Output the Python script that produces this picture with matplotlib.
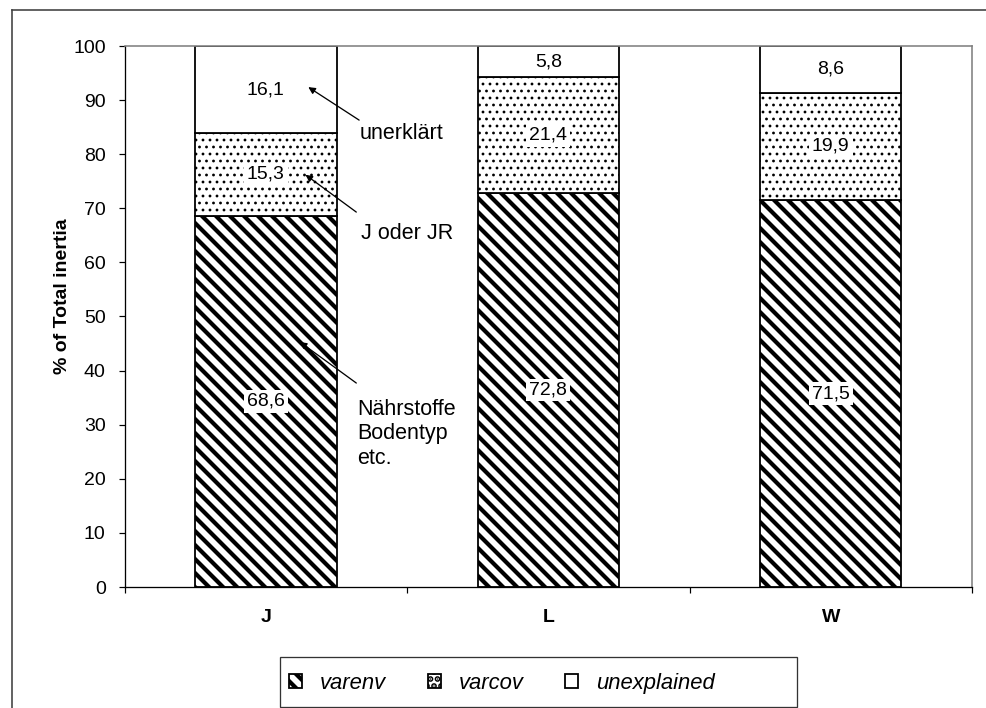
import numpy as np
import matplotlib
matplotlib.use('Agg')
import matplotlib.pyplot as plt
from matplotlib.lines import Line2D
from matplotlib.patches import Rectangle

# ──── Data ─────────────────────────────────────────────────────
sites = ['J', 'L', 'W']
varenv = [68.6, 72.8, 71.5]
varcov = [15.3, 21.4, 19.9]
unexplained = [16.1, 5.8, 8.6]
series_names = ['varenv', 'varcov', 'unexplained']
y_ticks = list(range(0, 101, 10))

# ──── Canvas (hatch spacing scales with dpi, so work at 84 dpi) ──
DPI = 84
W, H = 986, 708
PX = 72.0 / DPI            # points per pixel

plt.rcParams['font.family'] = ['Liberation Sans', 'DejaVu Sans']
plt.rcParams['hatch.linewidth'] = 4.2 * PX

FS_TICK = 19.5 * PX
FS_NOTE = 21.5 * PX
FS_LEG = 22.0 * PX

fig = plt.figure(figsize=((W + 0.01) / DPI, (H + 0.01) / DPI), dpi=DPI)
ax = fig.add_axes([124.7 / W, 1 - 587 / H, (972 - 124.7) / W, (587 - 46) / H])

x = np.arange(len(sites))
bottom2 = np.array(varenv)
bottom3 = bottom2 + np.array(varcov)

edge_lw = 1.8 * PX
b1 = ax.bar(x, varenv, 0.5, color='white', edgecolor='black', hatch='\\\\',
            lw=edge_lw, label=series_names[0])
b2 = ax.bar(x, varcov, 0.5, bottom=bottom2, color='white', edgecolor='black',
            hatch='..', lw=edge_lw, label=series_names[1])
b3 = ax.bar(x, unexplained, 0.5, bottom=bottom3, color='white',
            edgecolor='black', lw=edge_lw, label=series_names[2])
for p in b1:
    if hasattr(p, 'set_hatch_linewidth'):
        p.set_hatch_linewidth(4.2 * PX)
for p in b2:
    if hasattr(p, 'set_hatch_linewidth'):
        p.set_hatch_linewidth(1.4 * PX)

# value labels in the middle of each segment
for vals, bots in ((varenv, np.zeros(3)), (varcov, bottom2), (unexplained, bottom3)):
    for xi, v, b0 in zip(x, vals, bots):
        ax.text(xi, b0 + v / 2, f'{v:.1f}'.replace('.', ','), ha='center',
                va='center', fontsize=FS_TICK,
                bbox=dict(boxstyle='square,pad=0.15', fc='white', ec='none'))

# ──── Axes styling ─────────────────────────────────────────────
ax.set_xlim(-0.5, 2.5)
ax.set_ylim(0, 100)
ax.set_yticks(y_ticks)
ax.set_xticks(x)
ax.set_xticklabels(sites, fontweight='bold', fontsize=FS_TICK)
ax.set_xticks([-0.5, 0.5, 1.5, 2.5], minor=True)
ax.tick_params(axis='x', which='major', length=0, pad=22 * PX)
ax.tick_params(axis='x', which='minor', length=6 * PX, width=1.2 * PX,
               direction='out')
ax.tick_params(axis='y', length=6 * PX, width=1.2 * PX, direction='out',
               labelsize=FS_TICK, pad=13 * PX)
for s in ('top', 'right'):
    ax.spines[s].set_color('#808080')
    ax.spines[s].set_linewidth(1.6 * PX)
for s in ('left', 'bottom'):
    ax.spines[s].set_color('black')
    ax.spines[s].set_linewidth(1.3 * PX)

fig.text(62 / W, 1 - 296 / H, '% of Total inertia', rotation=90,
         ha='center', va='center', fontweight='bold', fontsize=FS_TICK)

# ──── Annotations ──────────────────────────────────────────────
arrow = dict(arrowstyle='-|>', color='black', lw=1.3 * PX,
             shrinkA=0, shrinkB=0, mutation_scale=14 * PX)
ax.annotate('', xy=(0.15, 92.4), xytext=(0.33, 86.3), arrowprops=arrow)
ax.text(0.332, 83.9, 'unerklärt', ha='left', va='center', fontsize=FS_NOTE)
ax.annotate('', xy=(0.14, 76.2), xytext=(0.32, 69.3), arrowprops=arrow)
ax.text(0.335, 65.4, 'J oder JR', ha='left', va='center', fontsize=FS_NOTE)
ax.annotate('', xy=(0.12, 45.3), xytext=(0.32, 37.7), arrowprops=arrow)
ax.text(0.322, 28.3, 'Nährstoffe\nBodentyp\netc.', ha='left', va='center',
        fontsize=FS_NOTE)

# ──── Legend ───────────────────────────────────────────────────
fig.patches.append(Rectangle((280 / W, 1 - 707 / H), (797 - 280) / W,
                             (707 - 657) / H, transform=fig.transFigure,
                             fill=False, ec='#333333', lw=1.3 * PX))
fig.legend(handles=[b1, b2, b3], labels=series_names, loc='center left',
           bbox_to_anchor=(289 / W, 1 - 683 / H), ncol=3, frameon=False,
           borderpad=0, borderaxespad=0, handlelength=0.6, handleheight=0.6,
           handletextpad=0.8, columnspacing=1.9,
           prop=dict(style='italic', size=FS_LEG))

# ──── Outer frame ──────────────────────────────────────────────
frame_kw = dict(transform=fig.transFigure, color='#404040', lw=1.6 * PX)
fig.lines.append(Line2D([12 / W, 12 / W], [0, 1 - 10 / H], **frame_kw))
fig.lines.append(Line2D([12 / W, 1], [1 - 10 / H, 1 - 10 / H], **frame_kw))

fig.savefig('out.png', dpi=DPI)
